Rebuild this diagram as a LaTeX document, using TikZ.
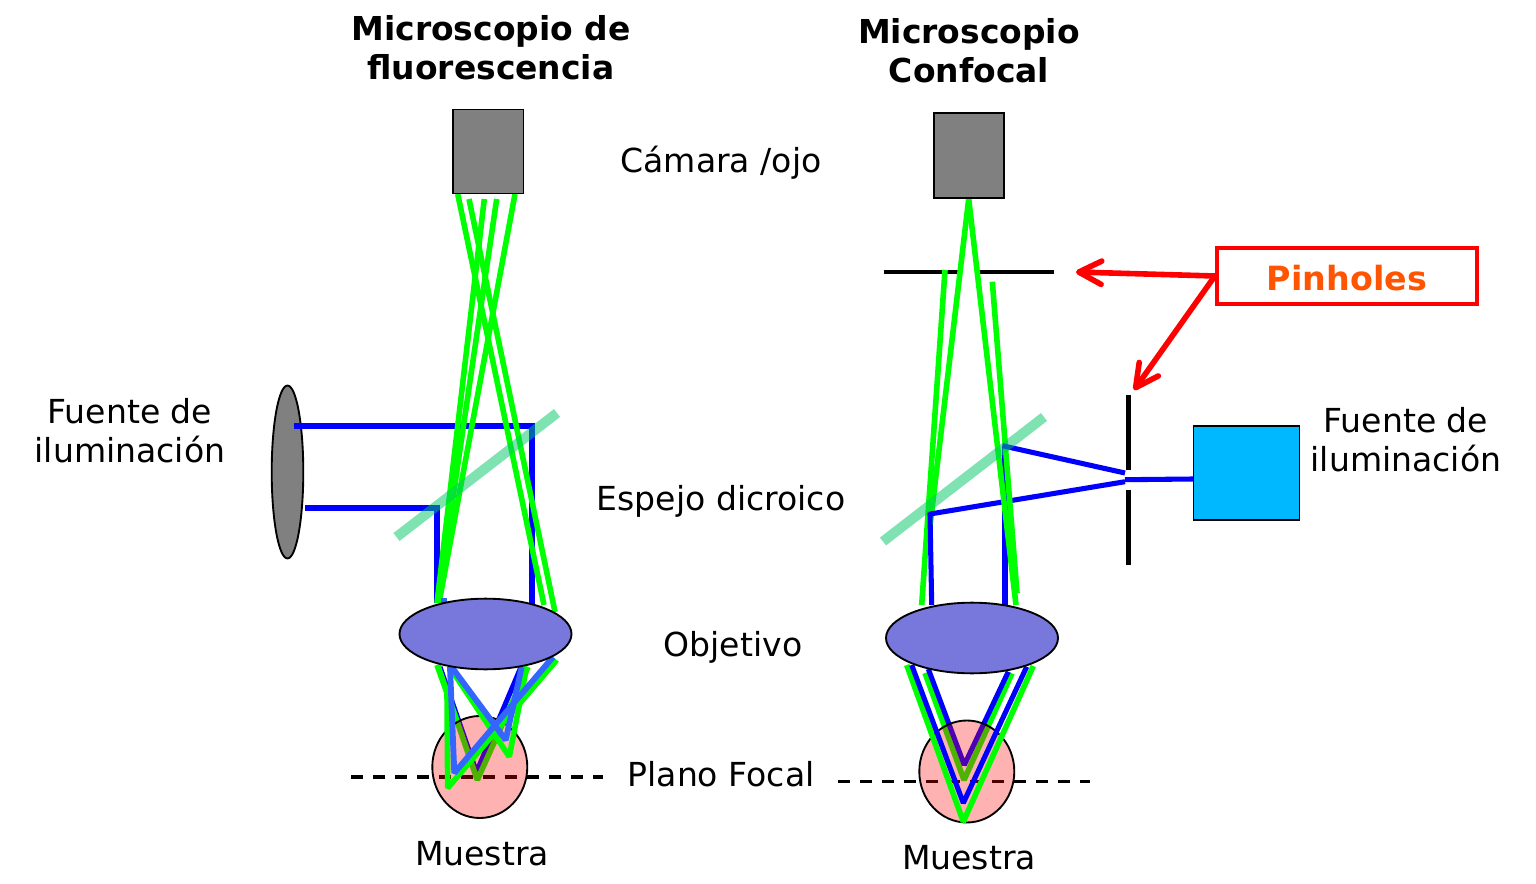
\documentclass[tikz,border=0pt]{standalone}
\usepackage{fontspec}
\setmainfont{DejaVu Sans}
\usetikzlibrary{arrows.meta,shapes.geometric}
\definecolor{raygreen}{HTML}{00FF00}
\definecolor{rayblue}{HTML}{0000FF}
\definecolor{lightblue}{HTML}{3366FF}
\definecolor{lensfill}{HTML}{7878DC}
\definecolor{mirrorcol}{HTML}{00C864}
\definecolor{srcblue}{HTML}{00B8FF}
\definecolor{pinorange}{HTML}{FF5500}
\definecolor{midgray}{HTML}{808080}
\tikzset{
  green ray/.style={draw=raygreen,line width=4.2pt,line join=bevel},
  blue ray/.style={draw=rayblue,line width=3.8pt},
  blue vee/.style={draw=rayblue,line width=3.8pt,line join=bevel},
  light ray/.style={draw=lightblue,line width=4.4pt,line join=bevel},
  mirror/.style={draw=mirrorcol,draw opacity=.5,line width=7.5pt},
  lens/.style={draw=black,line width=1.4pt,fill=lensfill},
  camera/.style={draw=black,line width=1.4pt,fill=midgray},
  sample/.style={fill=red,fill opacity=.3},
  outline/.style={draw=black,line width=1.4pt},
  focal/.style={draw=black,line width=2.6pt,dash pattern=on 9.2pt off 7.3pt},
  stopbar/.style={draw=black,line width=3.5pt},
  lbl/.style={font=\fontsize{24.8}{29.25}\selectfont,align=center,inner sep=0pt,text=black},
  ttl/.style={font=\fontsize{24.7}{29.25}\selectfont\bfseries,align=center,inner sep=0pt,text=black},
  pointer/.style={draw=red,line width=4.2pt,-{Straight Barb[length=17pt,width=17.5pt,round]}},
}
\begin{document}
\begin{tikzpicture}[x=0.75pt,y=-0.75pt]
\useasboundingbox (0,0) rectangle (1536,884);
% --- titles and labels
\node[ttl] (t1) at (491,47.5) {Microscopio de\\fluorescencia};
\node[ttl] (t2) at (969,50.5) {Microscopio\\Confocal};
\node[lbl] (l1) at (721,163) {Cámara /ojo};
\node[lbl] (l2) at (721,501) {Espejo dicroico};
\node[lbl] (l3) at (733,647) {Objetivo};
\node[lbl] (l4) at (721,774.5) {Plano Focal};
\node[lbl] (l5) at (482,853.5) {Muestra};
\node[lbl] (l6) at (969,857.5) {Muestra};
\node[lbl] (l7) at (130,430.5) {Fuente de\\iluminación};
\node[lbl] (l8) at (1406,440) {Fuente de\\iluminación};
% --- left microscope: under the sample
\node[camera,ellipse,inner sep=0pt,minimum width=23.7pt,minimum height=129.7pt] (srcL) at (287.5,472) {};
\draw[focal] (351,777) -- (603,777);
\draw[blue ray] (294,426) -- (532,426) -- (532,605);
\draw[blue ray] (305,508) -- (437,508) -- (437,603);
\draw[blue vee] (440,667) -- (476.5,772) -- (521,667);
\draw[green ray] (437.7,665) -- (477.3,780) -- (528,667);
\fill[sample] (479.8,767) ellipse [x radius=47.5,y radius=51];
\draw[outline] (479.8,767) ellipse [x radius=47.5,y radius=51];
% left microscope: over the sample
\draw[green ray] (457.7,194) -- (544,605);
\draw[green ray] (469,199) -- (555,612);
\draw[green ray] (484.3,199) -- (437,603);
\draw[green ray] (496.7,199) -- (437.5,603);
\draw[green ray] (515,194) -- (439,603);
\draw[light ray] (444,598) -- (444,610);
\draw[green ray] (437,665) -- (447,693) -- (447.7,788) -- (556.7,660);
\draw[green ray] (451.7,670) -- (509.3,756.7) -- (526.7,666.7);
\draw[light ray] (451.7,667) -- (505.7,740) -- (521.7,667);
\draw[light ray] (450,667) -- (454.3,773) -- (553,657);
\draw[mirror] (396.5,537) -- (557,413);
\node[lens,ellipse,inner sep=0pt,minimum width=129pt,minimum height=53pt] (lensL) at (485.5,634) {};
\node[camera,inner sep=0pt,minimum width=52.9pt,minimum height=63pt] (camL) at (488.2,151.5) {};
% --- right microscope: under the sample
\draw[focal] (838,781.3) -- (1090,781.3);
\draw[green ray] (925,673) -- (964,780) -- (1012,673.3);
\draw[blue vee] (928.3,669) -- (964.3,765) -- (1008.3,671.7);
\fill[sample] (966.8,771.5) ellipse [x radius=47.5,y radius=51];
\draw[outline] (966.8,771.5) ellipse [x radius=47.5,y radius=51];
% right microscope: over the sample
\draw[stopbar] (884,272) -- (959.3,272);
\draw[stopbar] (978.3,272) -- (1054,272);
\draw[stopbar] (1128.3,395) -- (1128.3,470);
\draw[stopbar] (1128.3,490) -- (1128.3,565);
\draw[green ray] (945,270) -- (921.7,605);
\draw[green ray] (968.7,199) -- (930,526);
\draw[blue ray] (1193,479) -- (1125,479.7);
\draw[blue ray] (1125,481.7) -- (930,514) -- (931.7,605);
\draw[blue ray] (1005,446) -- (1005,605);
\draw[green ray] (968.7,199) -- (1016,605);
\draw[green ray] (992.3,281.7) -- (1017,593);
\draw[blue ray] (1125,473) -- (1002.3,445.7);
\draw[green ray] (906.7,665) -- (963.3,821.7) -- (1033.3,666);
\draw[blue vee] (911.7,665) -- (963.3,803) -- (1026.7,666.7);
\draw[mirror] (883,541.5) -- (1044,417);
\node[lens,ellipse,inner sep=0pt,minimum width=129pt,minimum height=53pt] (lensR) at (972,638) {};
\node[camera,inner sep=0pt,minimum width=52.5pt,minimum height=63.5pt] (camR) at (969,155.5) {};
\node[draw=black,line width=.9pt,fill=srcblue,inner sep=0pt,minimum width=80pt,minimum height=70.5pt] (srcR) at (1246.5,473) {};
% --- pinholes callout
\node[draw=red,line width=3.2pt,fill=white,inner sep=0pt,minimum width=195pt,minimum height=42pt] (pin) at (1347,276) {};
\node[text=pinorange,inner sep=0pt,font=\fontsize{25}{29.25}\selectfont\bfseries] (pintext) at (1347,278.5) {Pinholes};
\coordinate (pinA) at (1076,272);
\coordinate (pinB) at (1134,390);
\draw[pointer] (pin.west) -- (pinA);
\draw[pointer] (pin.west) -- (pinB);
\end{tikzpicture}
\end{document}
